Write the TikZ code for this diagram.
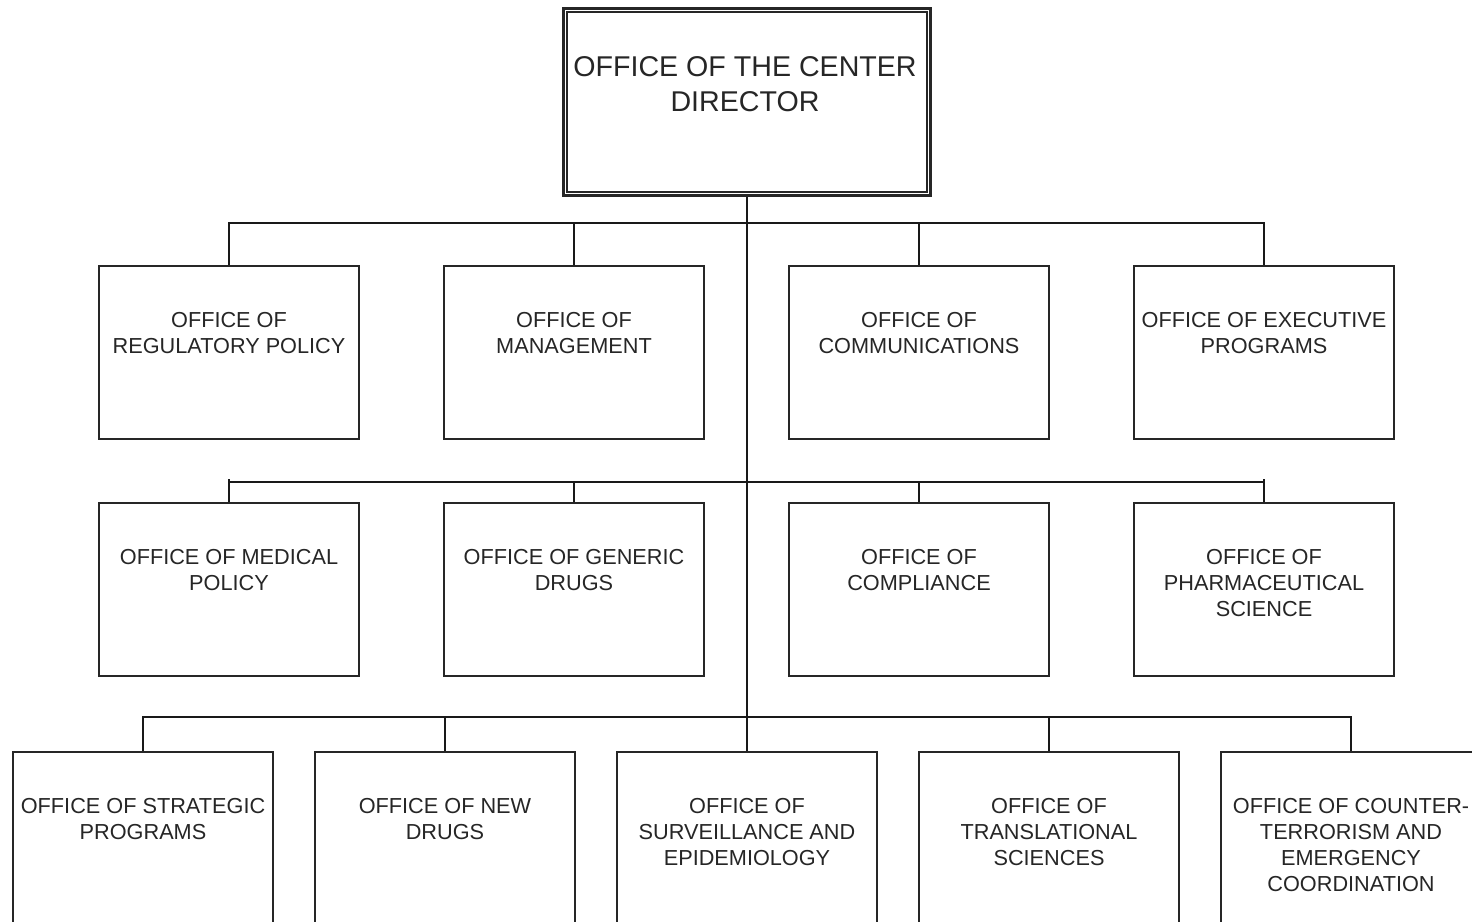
\documentclass[tikz,border=0pt]{standalone}
\usepackage{fontspec}
\setmainfont{Liberation Sans}
\usetikzlibrary{calc}
\begin{document}
\begin{tikzpicture}[x=1pt,y=-1pt,
  box/.style={draw=black!85, line width=2pt, minimum width=260pt, minimum height=173pt, inner sep=0pt, anchor=north west},
  lbl/.style={align=center, font=\fontsize{21.7}{26}\selectfont, anchor=north, inner sep=0pt, text=black!85},
  conn/.style={line width=1.5pt, draw=black!90}]
\clip (0,0) rectangle (1472,921);
\fill[white] (0,0) rectangle (1472,921);
% top box
\node[draw=black!85, line width=3pt, minimum width=367pt, minimum height=187pt, inner sep=0pt, anchor=north west] (top) at (562,6.5) {};
\draw[black!85, line width=2pt] ([shift={(5,5)}]top.north west) rectangle ([shift={(-5,-5)}]top.south east);
\node[align=center, font=\fontsize{28.6}{35}\selectfont, anchor=north, inner sep=0pt, text=black!85] (toplbl) at (745,56.5) {OFFICE OF THE CENTER\\DIRECTOR};
% row 1
\node[box] (a1) at (98,265) {};
\node[box] (a2) at (443,265) {};
\node[box] (a3) at (788,265) {};
\node[box] (a4) at (1133,265) {};
% row 2
\node[box] (b1) at (98,502) {};
\node[box] (b2) at (443,502) {};
\node[box] (b3) at (788,502) {};
\node[box] (b4) at (1133,502) {};
% row 3
\node[box, minimum width=260pt, minimum height=260pt] (c1) at (12,751) {};
\node[box, minimum width=260pt, minimum height=260pt] (c2) at (314,751) {};
\node[box, minimum width=260pt, minimum height=260pt] (c3) at (616,751) {};
\node[box, minimum width=260pt, minimum height=260pt] (c4) at (918,751) {};
\node[box, minimum width=260pt, minimum height=260pt] (c5) at (1220,751) {};
% labels
\node[lbl] (ta1) at ($(a1.north)+(0,47.5)$) {OFFICE OF\\REGULATORY POLICY};
\node[lbl] (ta2) at ($(a2.north)+(0,47.5)$) {OFFICE OF\\MANAGEMENT};
\node[lbl] (ta3) at ($(a3.north)+(0,47.5)$) {OFFICE OF\\COMMUNICATIONS};
\node[lbl] (ta4) at ($(a4.north)+(0,47.5)$) {OFFICE OF EXECUTIVE\\PROGRAMS};
\node[lbl] (tb1) at ($(b1.north)+(0,47.5)$) {OFFICE OF MEDICAL\\POLICY};
\node[lbl] (tb2) at ($(b2.north)+(0,47.5)$) {OFFICE OF GENERIC\\DRUGS};
\node[lbl] (tb3) at ($(b3.north)+(0,47.5)$) {OFFICE OF\\COMPLIANCE};
\node[lbl] (tb4) at ($(b4.north)+(0,47.5)$) {OFFICE OF\\PHARMACEUTICAL\\SCIENCE};
\node[lbl] (tc1) at ($(c1.north)+(0,47.5)$) {OFFICE OF STRATEGIC\\PROGRAMS};
\node[lbl] (tc2) at ($(c2.north)+(0,47.5)$) {OFFICE OF NEW\\DRUGS};
\node[lbl] (tc3) at ($(c3.north)+(0,47.5)$) {OFFICE OF\\SURVEILLANCE AND\\EPIDEMIOLOGY};
\node[lbl] (tc4) at ($(c4.north)+(0,47.5)$) {OFFICE OF\\TRANSLATIONAL\\SCIENCES};
\node[lbl] (tc5) at ($(c5.north)+(0,47.5)$) {OFFICE OF COUNTER-\\TERRORISM AND\\EMERGENCY\\COORDINATION};
% bus coordinates
\coordinate (bus1) at (0,223);
\coordinate (bus2) at (0,482);
\coordinate (tick2) at (0,479);
\coordinate (bus3) at (0,717);
% trunk
\draw[conn] (top.south) -- (top.south |- c3.north);
% row 1 connectors
\draw[conn] (a1.north) -- (a1.north |- bus1) -- (a4.north |- bus1) -- (a4.north);
\draw[conn] (a2.north) -- (a2.north |- bus1);
\draw[conn] (a3.north) -- (a3.north |- bus1);
% row 2 connectors
\draw[conn] (b1.north |- bus2) -- (b4.north |- bus2);
\draw[conn] (b1.north) -- (b1.north |- tick2);
\draw[conn] (b4.north) -- (b4.north |- tick2);
\draw[conn] (b2.north) -- (b2.north |- bus2);
\draw[conn] (b3.north) -- (b3.north |- bus2);
% row 3 connectors
\draw[conn] (c1.north) -- (c1.north |- bus3) -- (c5.north |- bus3) -- (c5.north);
\draw[conn] (c2.north) -- (c2.north |- bus3);
\draw[conn] (c4.north) -- (c4.north |- bus3);
\end{tikzpicture}
\end{document}
